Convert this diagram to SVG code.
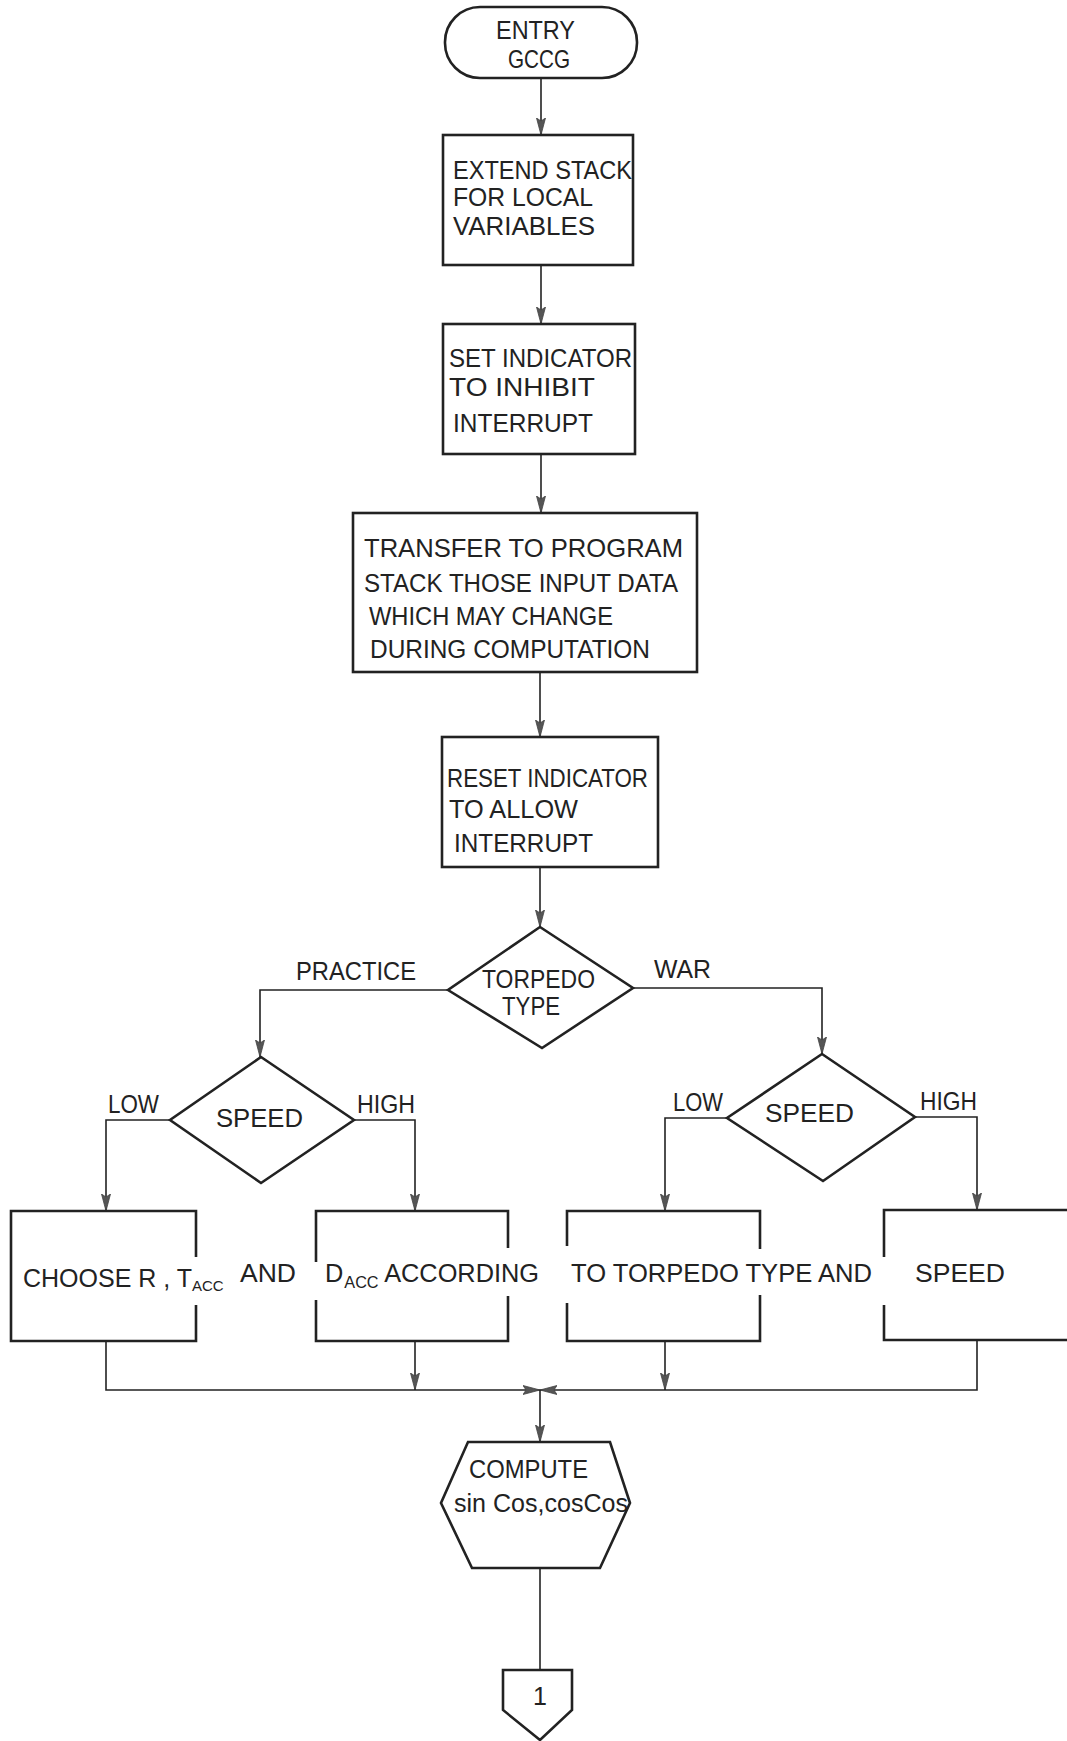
<svg xmlns="http://www.w3.org/2000/svg" width="1067" height="1741" viewBox="0 0 1067 1741">
<style>
.shape{fill:none;stroke:#222;stroke-width:2.6;stroke-linejoin:miter}
.conn{fill:none;stroke:#222;stroke-width:1.6}
.t{font-family:"Liberation Sans",Arial,sans-serif;font-size:25px;fill:#222}
.sub{font-size:16px}
</style>
<defs>
<marker id="arr" markerUnits="userSpaceOnUse" markerWidth="18" markerHeight="12" viewBox="0 0 18 12" refX="17" refY="6" orient="auto">
<path d="M0,1.5 L17,6 L0,10.5 L3,6 z" fill="#555" stroke="#444" stroke-width="0.8"/>
</marker>
</defs>
<rect width="1067" height="1741" fill="#fff"/>

<g id="connectors">
<line class="conn" x1="541" y1="78" x2="541" y2="135" marker-end="url(#arr)"/>
<line class="conn" x1="541" y1="265" x2="541" y2="324" marker-end="url(#arr)"/>
<line class="conn" x1="541" y1="454" x2="541" y2="513" marker-end="url(#arr)"/>
<line class="conn" x1="540" y1="672" x2="540" y2="737" marker-end="url(#arr)"/>
<line class="conn" x1="540" y1="867" x2="540" y2="927" marker-end="url(#arr)"/>
<polyline class="conn" points="448,990 260,990 260,1057" marker-end="url(#arr)"/>
<polyline class="conn" points="633,988 822,988 822,1054" marker-end="url(#arr)"/>
<polyline class="conn" points="170,1120 106,1120 106,1211" marker-end="url(#arr)"/>
<polyline class="conn" points="354,1120 415,1120 415,1211" marker-end="url(#arr)"/>
<polyline class="conn" points="727,1118 665,1118 665,1211" marker-end="url(#arr)"/>
<polyline class="conn" points="915,1117 977,1117 977,1210" marker-end="url(#arr)"/>
<line class="conn" x1="415" y1="1341" x2="415" y2="1390" marker-end="url(#arr)"/>
<line class="conn" x1="665" y1="1341" x2="665" y2="1390" marker-end="url(#arr)"/>
<polyline class="conn" points="106,1341 106,1390 540,1390" marker-end="url(#arr)"/>
<polyline class="conn" points="977,1340 977,1390 540,1390" marker-end="url(#arr)"/>
<line class="conn" x1="540" y1="1390" x2="540" y2="1442" marker-end="url(#arr)"/>
<line class="conn" x1="540" y1="1568" x2="540" y2="1670"/>
</g>

<g id="entry">
<rect class="shape" x="445" y="7" width="192" height="71" rx="35" ry="35"/>
<text class="t" x="496" y="39" font-size="22" textLength="79" lengthAdjust="spacingAndGlyphs">ENTRY</text>
<text class="t" x="508" y="68" font-size="22" textLength="62" lengthAdjust="spacingAndGlyphs">GCCG</text>
</g>

<g id="extend">
<rect class="shape" x="443" y="135" width="190" height="130"/>
<text class="t" x="453" y="179" textLength="179" lengthAdjust="spacingAndGlyphs">EXTEND STACK</text>
<text class="t" x="453" y="206" textLength="140" lengthAdjust="spacingAndGlyphs">FOR  LOCAL</text>
<text class="t" x="453" y="235" textLength="142" lengthAdjust="spacingAndGlyphs">VARIABLES</text>
</g>

<g id="setind">
<rect class="shape" x="443" y="324" width="192" height="130"/>
<text class="t" x="449" y="367" textLength="183" lengthAdjust="spacingAndGlyphs">SET INDICATOR</text>
<text class="t" x="449" y="396" textLength="146" lengthAdjust="spacingAndGlyphs">TO  INHIBIT</text>
<text class="t" x="453" y="432" textLength="140" lengthAdjust="spacingAndGlyphs">INTERRUPT</text>
</g>

<g id="transfer">
<rect class="shape" x="353" y="513" width="344" height="159"/>
<text class="t" x="364" y="557" textLength="319" lengthAdjust="spacingAndGlyphs">TRANSFER TO  PROGRAM</text>
<text class="t" x="364" y="592" textLength="314" lengthAdjust="spacingAndGlyphs">STACK THOSE INPUT  DATA</text>
<text class="t" x="369" y="625" textLength="244" lengthAdjust="spacingAndGlyphs">WHICH MAY CHANGE</text>
<text class="t" x="370" y="658" textLength="280" lengthAdjust="spacingAndGlyphs">DURING COMPUTATION</text>
</g>

<g id="resetind">
<rect class="shape" x="442" y="737" width="216" height="130"/>
<text class="t" x="447" y="787" textLength="201" lengthAdjust="spacingAndGlyphs">RESET INDICATOR</text>
<text class="t" x="449" y="818" textLength="129" lengthAdjust="spacingAndGlyphs">TO ALLOW</text>
<text class="t" x="454" y="852" textLength="139" lengthAdjust="spacingAndGlyphs">INTERRUPT</text>
</g>

<g id="torpedo">
<polygon class="shape" points="540,927 633,988 542,1048 448,990"/>
<text class="t" x="482" y="988" font-size="23" textLength="113" lengthAdjust="spacingAndGlyphs">TORPEDO</text>
<text class="t" x="502" y="1015" font-size="23" textLength="58" lengthAdjust="spacingAndGlyphs">TYPE</text>
<text class="t" x="296" y="980" textLength="120" lengthAdjust="spacingAndGlyphs">PRACTICE</text>
<text class="t" x="654" y="978" textLength="57" lengthAdjust="spacingAndGlyphs">WAR</text>
</g>

<g id="speed-practice">
<polygon class="shape" points="261,1057 354,1120 261,1183 170,1120"/>
<text class="t" x="216" y="1127" textLength="87" lengthAdjust="spacingAndGlyphs">SPEED</text>
<text class="t" x="108" y="1113" textLength="51" lengthAdjust="spacingAndGlyphs">LOW</text>
<text class="t" x="357" y="1113" textLength="58" lengthAdjust="spacingAndGlyphs">HIGH</text>
</g>

<g id="speed-war">
<polygon class="shape" points="822,1054 915,1117 823,1181 727,1118"/>
<text class="t" x="765" y="1122" textLength="89" lengthAdjust="spacingAndGlyphs">SPEED</text>
<text class="t" x="673" y="1111" textLength="50" lengthAdjust="spacingAndGlyphs">LOW</text>
<text class="t" x="920" y="1110" textLength="57" lengthAdjust="spacingAndGlyphs">HIGH</text>
</g>

<g id="choose">
<path class="shape" d="M196,1257 V1211 H11 V1341 H196 V1305"/>
<path class="shape" d="M316,1262 V1211 H508 V1248 M508,1296 V1341 H316 V1300"/>
<path class="shape" d="M567,1246 V1211 H760 V1249 M760,1295 V1341 H567 V1303"/>
<path class="shape" d="M884,1257 V1210 H1067 M1067,1340 H884 V1305"/>
<text class="t" x="23" y="1287" font-size="23">CHOOSE R , T<tspan font-size="15" dy="4">ACC</tspan></text>
<text class="t" x="240" y="1282" textLength="56" lengthAdjust="spacingAndGlyphs">AND</text>
<text class="t" x="325" y="1282" textLength="214" lengthAdjust="spacingAndGlyphs">D<tspan class="sub" dx="1" dy="6">ACC</tspan><tspan dy="-6"> ACCORDING</tspan></text>
<text class="t" x="571" y="1282" textLength="301" lengthAdjust="spacingAndGlyphs">TO  TORPEDO TYPE  AND</text>
<text class="t" x="915" y="1282" textLength="90" lengthAdjust="spacingAndGlyphs">SPEED</text>
</g>

<g id="compute">
<polygon class="shape" points="468,1442 610,1442 630,1503 600,1568 472,1568 441,1503"/>
<text class="t" x="469" y="1478" font-size="22" textLength="119" lengthAdjust="spacingAndGlyphs">COMPUTE</text>
<text class="t" x="454" y="1512" font-size="22" textLength="174" lengthAdjust="spacingAndGlyphs">sin Cos,cosCos</text>
</g>

<g id="offpage">
<polygon class="shape" points="503,1670 572,1670 572,1710 540,1740 503,1710"/>
<text class="t" x="540" y="1705" font-size="19" text-anchor="middle">1</text>
</g>
</svg>
